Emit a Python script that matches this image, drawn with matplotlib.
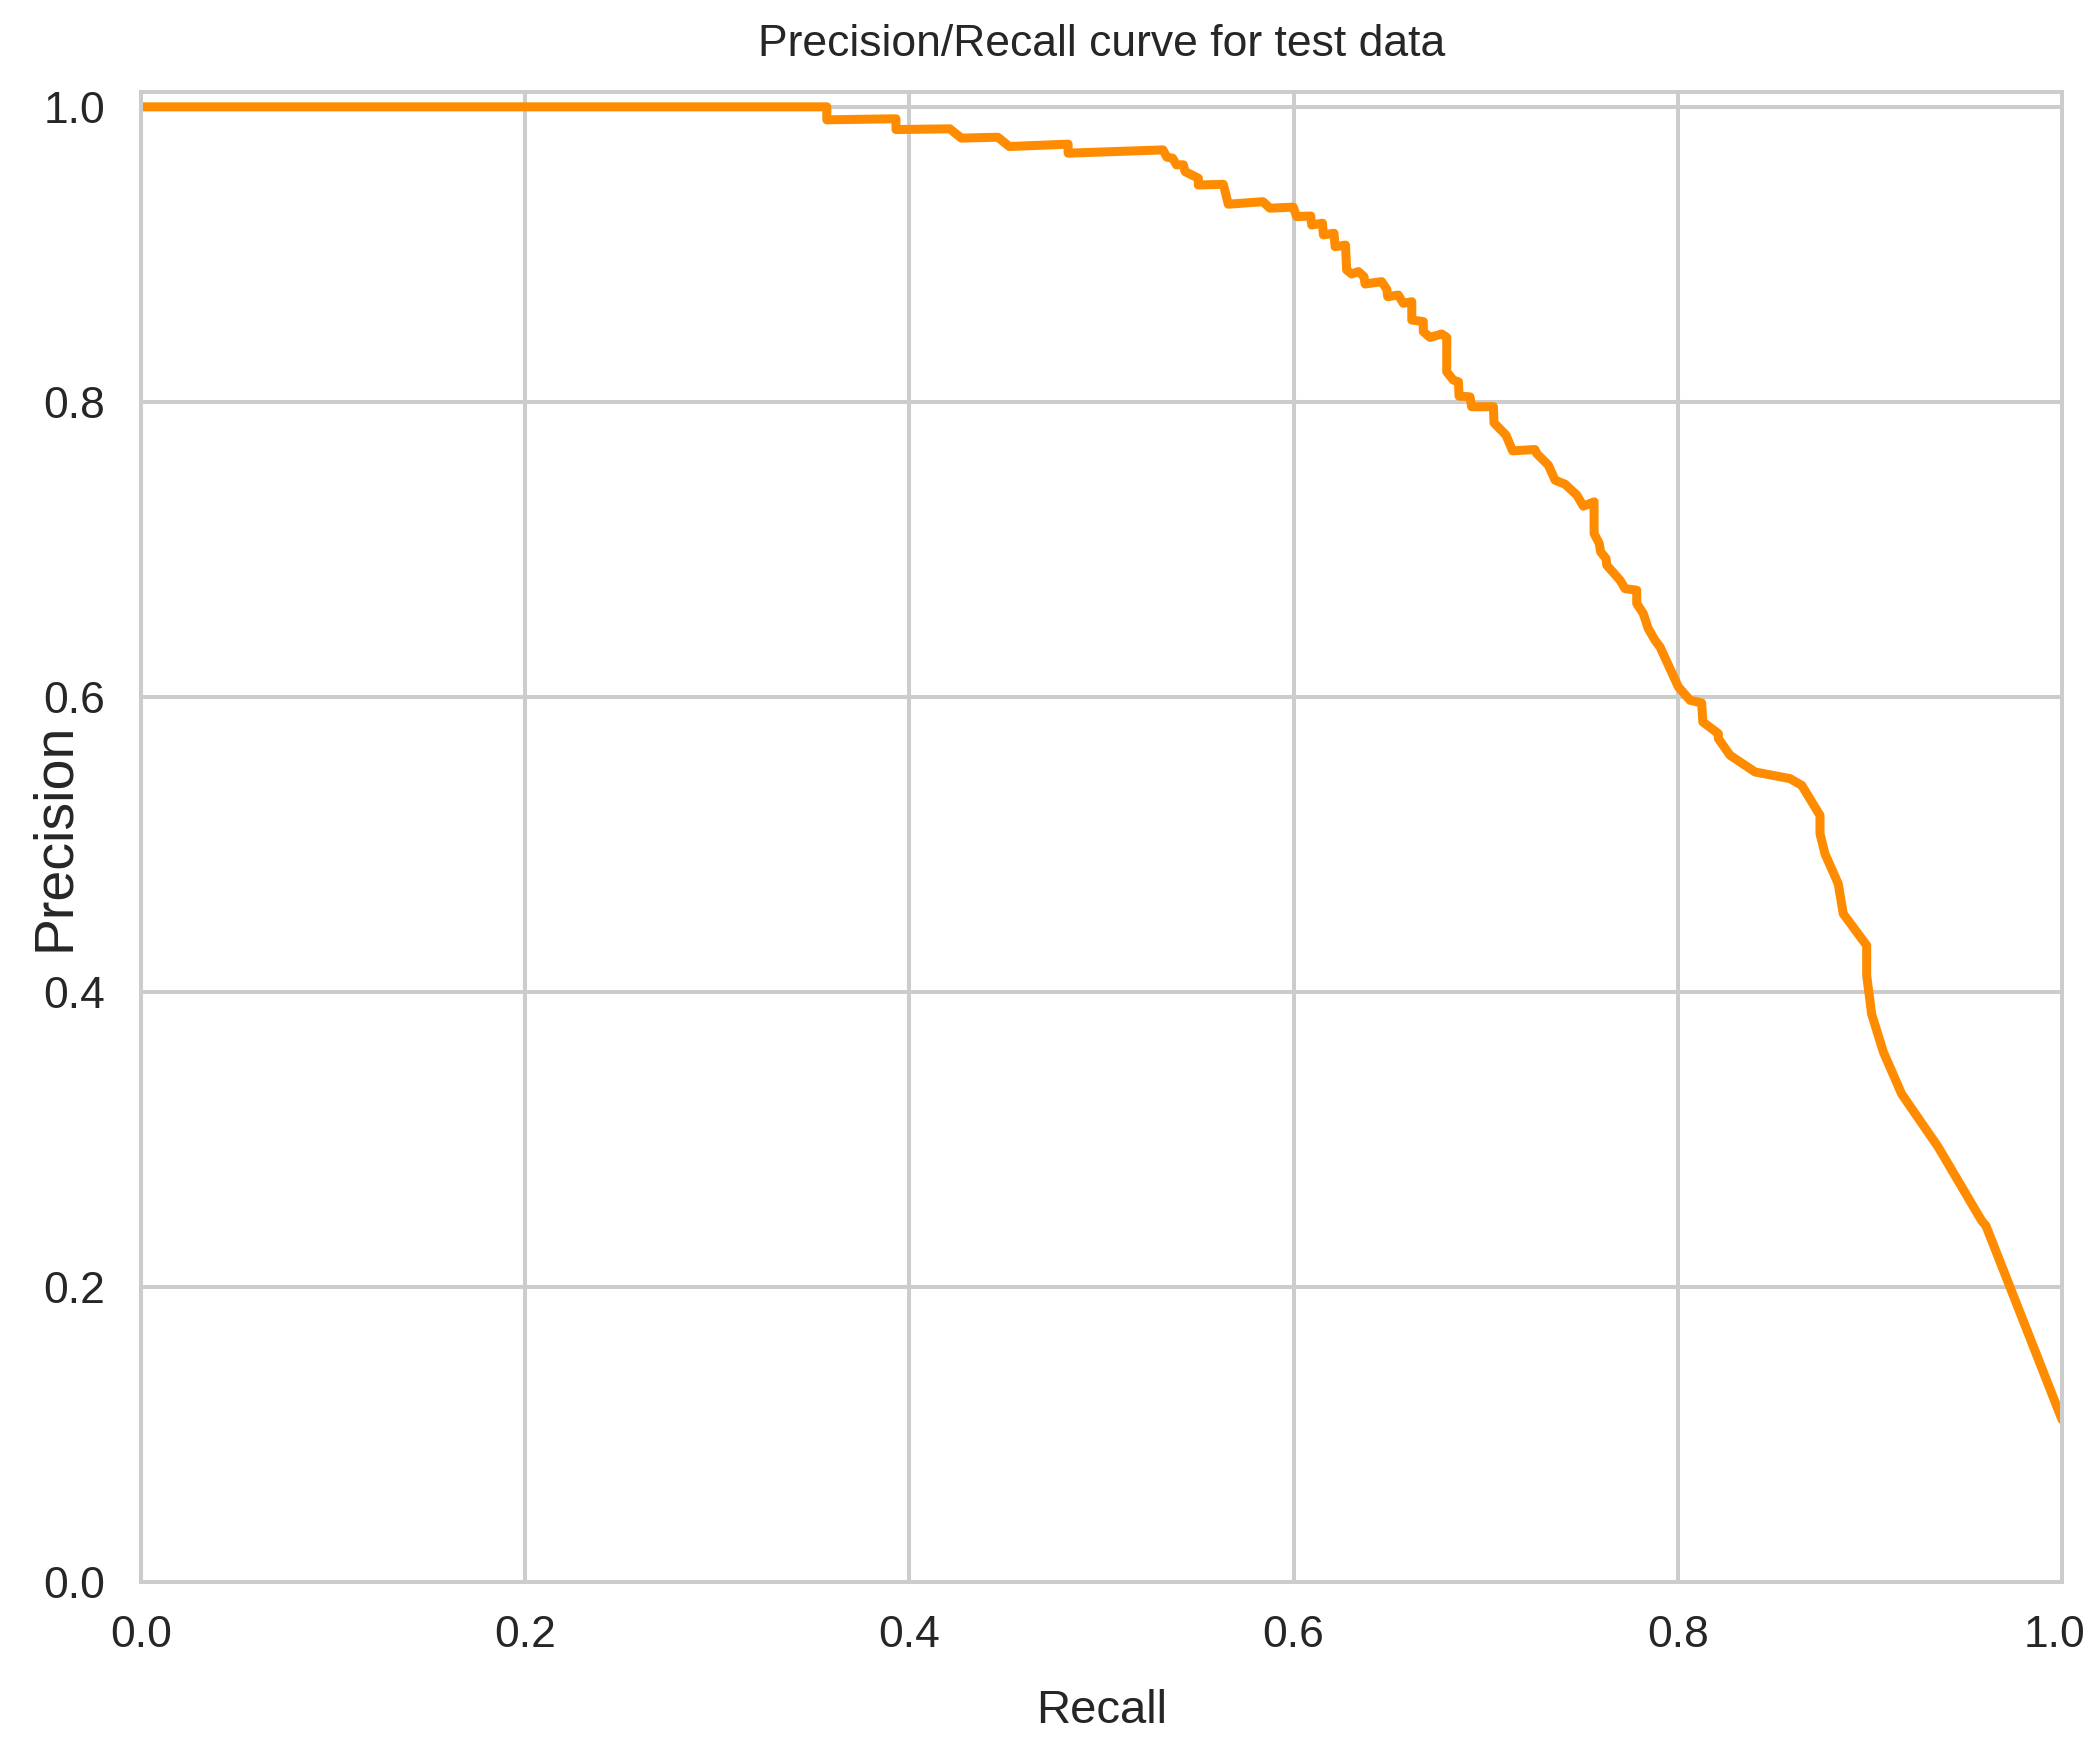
import numpy as np
import matplotlib
matplotlib.use('Agg')
import matplotlib.pyplot as plt
import matplotlib.transforms as mtransforms
import seaborn as sns
from matplotlib.font_manager import FontProperties

# precision / recall pairs of the classifier on the test set
recall = [0.0, 0.357, 0.357, 0.393, 0.393, 0.421, 0.427, 0.446, 0.452, 0.4826,
          0.4826, 0.532, 0.534, 0.537, 0.539, 0.5426, 0.5435, 0.5504, 0.5504, 0.5634,
          0.566, 0.584, 0.5877, 0.5998, 0.6016, 0.6089, 0.6094, 0.6150, 0.6155, 0.6210,
          0.6216, 0.6270, 0.6276, 0.6302, 0.6337, 0.6366, 0.6372, 0.6458, 0.6485, 0.6490,
          0.6545, 0.6571, 0.6615, 0.6615, 0.6675, 0.6675, 0.6710, 0.6771, 0.6797, 0.6797,
          0.6831, 0.6858, 0.6861, 0.6918, 0.6927, 0.7040, 0.7043, 0.7105, 0.7140, 0.7256,
          0.7265, 0.7326, 0.7361, 0.7413, 0.7474, 0.7508, 0.7564, 0.7564, 0.7591, 0.7598,
          0.7626, 0.7630, 0.7699, 0.7725, 0.7786, 0.7786, 0.7820, 0.7846, 0.7881, 0.7907,
          0.8003, 0.8064, 0.8124, 0.8130, 0.8211, 0.8211, 0.8272, 0.8402, 0.8584, 0.8645,
          0.8740, 0.8740, 0.8766, 0.8835, 0.8861, 0.8983, 0.8983, 0.9009, 0.9070, 0.9165,
          0.9356, 0.9581, 0.9604, 1.0]
precision = [1.0, 1.0, 0.9912, 0.9919, 0.9846, 0.9851, 0.9788, 0.9794, 0.9731, 0.9747,
             0.9686, 0.9708, 0.9659, 0.9652, 0.9607, 0.9607, 0.9561, 0.9516, 0.9470, 0.9475,
             0.9340, 0.9357, 0.9313, 0.9320, 0.9256, 0.9260, 0.9199, 0.9211, 0.9132, 0.9143,
             0.9052, 0.9063, 0.8894, 0.8867, 0.8883, 0.8849, 0.8799, 0.8815, 0.8763, 0.8713,
             0.8724, 0.8668, 0.8679, 0.8555, 0.8544, 0.8476, 0.8437, 0.8460, 0.8437, 0.8204,
             0.8148, 0.8136, 0.8039, 0.8034, 0.7967, 0.7967, 0.7858, 0.7775, 0.7668, 0.7677,
             0.7650, 0.7571, 0.7469, 0.7442, 0.7368, 0.7293, 0.7322, 0.7107, 0.7040, 0.6983,
             0.6938, 0.6893, 0.6791, 0.6734, 0.6723, 0.6633, 0.6565, 0.6463, 0.6384, 0.6339,
             0.6067, 0.5977, 0.5959, 0.5830, 0.5751, 0.5717, 0.5604, 0.5491, 0.5446, 0.5400,
             0.5197, 0.5072, 0.4936, 0.4733, 0.4530, 0.4315, 0.4111, 0.3849, 0.3592, 0.3308,
             0.2947, 0.2450, 0.2414, 0.110]

ticks = [0.0, 0.2, 0.4, 0.6, 0.8, 1.0]

sns.set_style('whitegrid')

fam = ['Liberation Sans', 'Arial', 'DejaVu Sans']
fp_ticks = FontProperties(family=fam, size=32)
fp_title = FontProperties(family=fam, size=32)
fp_xlab = FontProperties(family=fam, size=34)
fp_ylab = FontProperties(family=fam, size=40)
txt = '#262626'
gridc = '#cccccc'

fig, ax = plt.subplots(figsize=(20.89, 17.44), dpi=100)
fig.subplots_adjust(left=0.0675, right=0.9871, bottom=0.0929, top=0.9472)

ax.plot(recall, precision, color='darkorange', lw=6.5)

ax.set_xlim(0.0, 1.0)
ax.set_ylim(0.0, 1.01)
ax.set_xticks(ticks)
ax.set_yticks(ticks)
ax.grid(True, color=gridc, lw=2.9)
for sp in ax.spines.values():
    sp.set_visible(True)
    sp.set_color(gridc)
    sp.set_linewidth(2.9)
ax.tick_params(axis='x', length=0, pad=24, colors=txt)
ax.tick_params(axis='y', length=0, pad=26, colors=txt)
for lbl in ax.get_xticklabels() + ax.get_yticklabels():
    lbl.set_fontproperties(fp_ticks)

# last x label sits against the right edge, nudge it inwards a little
last = ax.get_xticklabels()[-1]
last.set_transform(last.get_transform() +
                   mtransforms.ScaledTranslation(-0.08, 0, fig.dpi_scale_trans))

ax.set_title('Precision/Recall curve for test data', fontproperties=fp_title,
             color=txt, pad=26)
ax.set_xlabel('Recall', fontproperties=fp_xlab, color=txt)
ax.xaxis.set_label_coords(0.5, -0.072)
ax.set_ylabel('Precision', fontproperties=fp_ylab, color=txt)
ax.yaxis.set_label_coords(-0.031, 0.5)

fig.savefig('out.png', dpi=100)
